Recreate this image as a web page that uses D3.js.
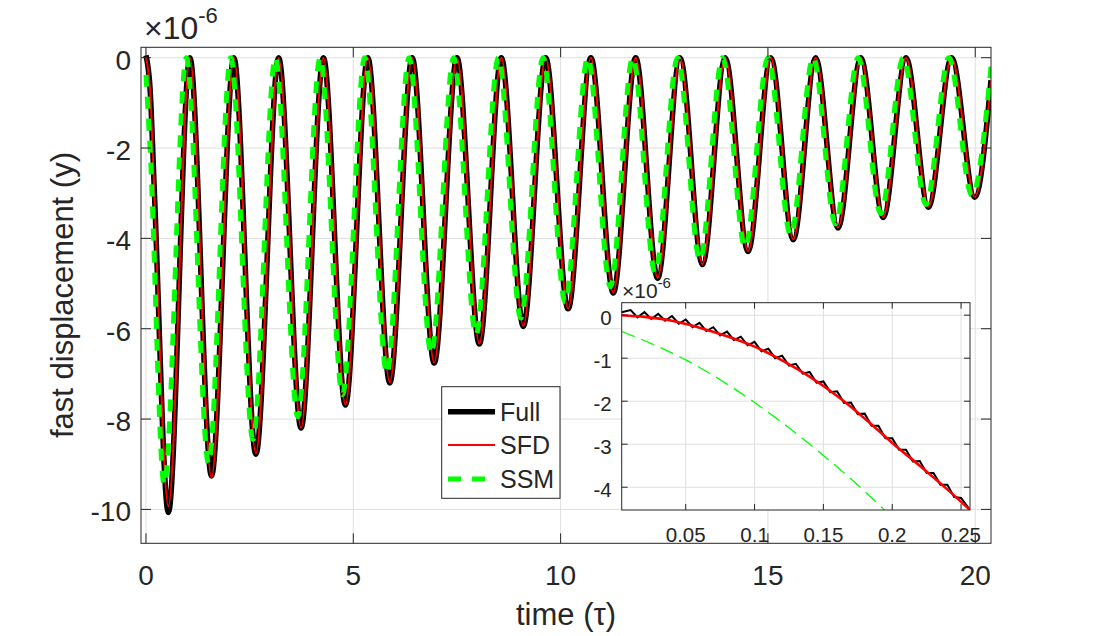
<!DOCTYPE html>
<html><head><meta charset="utf-8">
<script src="https://cdn.jsdelivr.net/npm/d3@7"></script>
<style>
body{margin:0;background:#fff}
svg{display:block}
text{font-family:"Liberation Sans",Arial,Helvetica,sans-serif;fill:#262626}
</style>
</head><body>
<svg id="c" width="1096" height="636"></svg>
<script>
// ---------------- DATA (values in units of 1e-6) ----------------
// Main panel: extrema (peaks ~0, troughs decaying)
const fullT = [0, 0.1, 0.2, 0.54, 1.06, 1.58, 2.12, 2.65, 3.20, 3.74, 4.28, 4.81, 5.35, 5.88, 6.42, 6.95, 7.50, 8.04, 8.57, 9.10, 9.64, 10.18, 10.73, 11.27, 11.81, 12.34, 12.88, 13.42, 13.97, 14.52, 15.07, 15.61, 16.15, 16.69, 17.24, 17.78, 18.33, 18.87, 19.43, 19.99, 20.38];
const fullV = [0.05, -0.70, -2.90, -10.07, 0, -9.26, 0, -8.78, 0, -8.20, 0, -7.69, 0, -7.20, 0, -6.76, 0, -6.34, 0, -5.95, 0, -5.56, 0, -5.21, 0, -4.88, 0, -4.58, 0, -4.29, 0, -4.03, 0, -3.77, 0, -3.54, 0, -3.31, 0, -3.09, -0.50];
const sfdT = [0, 0.1, 0.2, 0.54, 1.06, 1.58, 2.12, 2.65, 3.20, 3.74, 4.28, 4.81, 5.35, 5.88, 6.42, 6.95, 7.50, 8.04, 8.57, 9.10, 9.64, 10.18, 10.73, 11.27, 11.81, 12.34, 12.88, 13.42, 13.97, 14.52, 15.07, 15.61, 16.15, 16.69, 17.24, 17.78, 18.33, 18.87, 19.43, 19.99, 20.38];
const sfdV = [0, -0.73, -2.97, -9.93, 0, -9.30, 0, -8.76, 0, -8.19, 0, -7.68, 0, -7.19, 0, -6.75, 0, -6.33, 0, -5.94, 0, -5.55, 0, -5.20, 0, -4.87, 0, -4.57, 0, -4.28, 0, -4.02, 0, -3.76, 0, -3.53, 0, -3.30, 0, -3.08, -0.50];
const ssmT = [0, 0.1, 0.44, 0.975, 1.51, 2.045, 2.58, 3.12, 3.66, 4.20, 4.74, 5.275, 5.81, 6.345, 6.88, 7.42, 7.96, 8.50, 9.04, 9.575, 10.11, 10.655, 11.20, 11.74, 12.28, 12.82, 13.36, 13.905, 14.45, 15.00, 15.55, 16.09, 16.63, 17.175, 17.72, 18.265, 18.81, 19.365, 19.92, 20.38];
const ssmV = [-0.38, -2.03, -9.45, 0, -8.98, 0, -8.45, 0, -7.95, 0, -7.46, 0, -6.99, 0, -6.55, 0, -6.13, 0, -5.76, 0, -5.41, 0, -5.07, 0, -4.76, 0, -4.48, 0, -4.20, 0, -3.93, 0, -3.68, 0, -3.45, 0, -3.25, 0, -3.05, -0.20];

// Inset panel (zoom on the first quarter period)
const inFullT = [0.0035, 0.010, 0.015, 0.020, 0.025, 0.030, 0.035, 0.040, 0.045, 0.050, 0.055, 0.060, 0.065, 0.070, 0.075, 0.080, 0.085, 0.090, 0.095, 0.100, 0.105, 0.110, 0.115, 0.120, 0.125, 0.130, 0.135, 0.140, 0.145, 0.150, 0.155, 0.160, 0.165, 0.170, 0.175, 0.180, 0.185, 0.190, 0.195, 0.200, 0.205, 0.210, 0.215, 0.220, 0.225, 0.230, 0.235, 0.240, 0.245, 0.250, 0.2565];
const inFullV = [0.07, 0.12, -0.05, 0.07, -0.09, 0.03, -0.13, -0.02, -0.20, -0.10, -0.28, -0.18, -0.37, -0.28, -0.47, -0.38, -0.58, -0.50, -0.70, -0.62, -0.84, -0.78, -1.00, -0.94, -1.17, -1.13, -1.36, -1.32, -1.57, -1.54, -1.79, -1.77, -2.04, -2.03, -2.30, -2.29, -2.57, -2.57, -2.86, -2.86, -3.13, -3.13, -3.40, -3.39, -3.67, -3.67, -3.94, -3.94, -4.23, -4.25, -4.53];
const inSfdT = [0.0035, 0.02, 0.04, 0.06, 0.08, 0.10, 0.12, 0.14, 0.16, 0.18, 0.20, 0.22, 0.24, 0.2565];
const inSfdV = [0.0, -0.04, -0.13, -0.29, -0.49, -0.73, -1.05, -1.43, -1.88, -2.40, -2.97, -3.50, -4.05, -4.53];
const inSsmT = [0.0035, 0.025, 0.05, 0.075, 0.10, 0.125, 0.15, 0.175, 0.195];
const inSsmV = [-0.38, -0.66, -1.04, -1.50, -2.03, -2.62, -3.26, -3.95, -4.55];

// Ticks and labels
const mainXTicks = [0, 5, 10, 15, 20];
const mainYTicks = [-10, -8, -6, -4, -2, 0];
const insetXTicks = [0.05, 0.1, 0.15, 0.2, 0.25];
const insetXTickLabels = ["0.05", "0.1", "0.15", "0.2", "0.25"];
const insetYTicks = [-4, -3, -2, -1, 0];
const seriesNames = ["Full", "SFD", "SSM"];
const seriesColors = ["#000000", "#ff0000", "#00ff00"];
const xLabel = "time (τ)";
const yLabel = "fast displacement (y)";

// ---------------- DRAWING ----------------
const svg = d3.select("#c");
svg.append("rect").attr("width", 1096).attr("height", 636).attr("fill", "#fff");
const AX = "#262626", GRID = "#dfdfdf";
const toPts = (T, V) => T.map((t, i) => [t, V[i]]);

function drawFrame(g, xs, ys, xt, yt) {
  const [x0, x1] = xs.range(), [y0, y1] = ys.range();
  const grid = g.append("g").attr("stroke", GRID).attr("stroke-width", 1);
  xt.forEach(t => grid.append("line").attr("x1", xs(t)).attr("x2", xs(t)).attr("y1", y0).attr("y2", y1));
  yt.forEach(t => grid.append("line").attr("y1", ys(t)).attr("y2", ys(t)).attr("x1", x0).attr("x2", x1));
}
function drawBox(g, xs, ys, xt, yt, tl) {
  const [x0, x1] = xs.range(), [y0, y1] = ys.range();
  const b = g.append("g").attr("stroke", AX).attr("stroke-width", 1).attr("fill", "none");
  b.append("rect").attr("x", x0).attr("y", y1).attr("width", x1 - x0).attr("height", y0 - y1);
  xt.forEach(t => {
    b.append("line").attr("x1", xs(t)).attr("x2", xs(t)).attr("y1", y0).attr("y2", y0 - tl);
    b.append("line").attr("x1", xs(t)).attr("x2", xs(t)).attr("y1", y1).attr("y2", y1 + tl);
  });
  yt.forEach(t => {
    b.append("line").attr("y1", ys(t)).attr("y2", ys(t)).attr("x1", x0).attr("x2", x0 + tl);
    b.append("line").attr("y1", ys(t)).attr("y2", ys(t)).attr("x1", x1).attr("x2", x1 - tl);
  });
}

// ---- main axes ----
const mx = d3.scaleLinear().domain([-0.12, 20.38]).range([141, 991]);
const my = d3.scaleLinear().domain([-10.75, 0.23]).range([543.3, 47.3]);
const main = svg.append("g");
drawFrame(main, mx, my, mainXTicks, mainYTicks);

svg.append("clipPath").attr("id", "clipMain").append("rect")
  .attr("x", 141).attr("y", 47.3).attr("width", 850).attr("height", 496);
const mline = d3.line().x(d => mx(d[0])).y(d => my(d[1])).curve(d3.curveMonotoneX);
const mc = main.append("g").attr("clip-path", "url(#clipMain)").attr("fill", "none");
mc.append("path").attr("d", mline(toPts(fullT, fullV))).attr("stroke", seriesColors[0]).attr("stroke-width", 5.5).attr("stroke-linejoin", "round");
mc.append("path").attr("d", mline(toPts(sfdT, sfdV))).attr("stroke", seriesColors[1]).attr("stroke-width", 2);
mc.append("path").attr("d", mline(toPts(ssmT, ssmV))).attr("stroke", seriesColors[2]).attr("stroke-width", 5).attr("stroke-dasharray", "12,10");

drawBox(main, mx, my, mainXTicks, mainYTicks, 10);

// tick labels
mainXTicks.forEach(t => main.append("text").attr("x", mx(t)).attr("y", 585).attr("text-anchor", "middle").attr("font-size", 28).text(String(t)));
mainYTicks.forEach(t => main.append("text").attr("x", 131).attr("y", my(t) + 12).attr("text-anchor", "end").attr("font-size", 28).text(String(t)));
// exponent
const ex = main.append("text").attr("x", 144).attr("y", 39).attr("font-size", 32);
ex.append("tspan").text("×10");
ex.append("tspan").attr("font-size", 22).attr("dy", -16).text("-6");
// axis labels
main.append("text").attr("x", 566).attr("y", 625).attr("text-anchor", "middle").attr("font-size", 31).text(xLabel);
main.append("text").attr("transform", "translate(73,295) rotate(-90)").attr("text-anchor", "middle").attr("font-size", 31).text(yLabel);

// ---- legend ----
const lg = svg.append("g");
lg.append("rect").attr("x", 441.7).attr("y", 386.7).attr("width", 118.3).attr("height", 111.6).attr("fill", "#fff").attr("stroke", AX).attr("stroke-width", 1);
const rows = [411.7, 445, 479];
const lw = [5.5, 2, 5];
rows.forEach((ry, i) => {
  const ln = lg.append("line").attr("x1", 448).attr("x2", 495).attr("y1", ry).attr("y2", ry)
    .attr("stroke", seriesColors[i]).attr("stroke-width", lw[i]);
  if (i === 2) ln.attr("stroke-dasharray", "13,11");
  lg.append("text").attr("x", 500).attr("y", ry + 9).attr("font-size", 25).text(seriesNames[i]);
});

// ---- inset axes ----
const ix = d3.scaleLinear().domain([0.0035, 0.2565]).range([621.7, 970]);
const iy = d3.scaleLinear().domain([-4.53, 0.29]).range([510, 302.7]);
const ins = svg.append("g");
ins.append("rect").attr("x", 621.7).attr("y", 302.7).attr("width", 970 - 621.7).attr("height", 510 - 302.7).attr("fill", "#fff");
drawFrame(ins, ix, iy, insetXTicks, insetYTicks);
svg.append("clipPath").attr("id", "clipIn").append("rect")
  .attr("x", 621.7).attr("y", 302.7).attr("width", 970 - 621.7).attr("height", 510 - 302.7);
const iline = d3.line().x(d => ix(d[0])).y(d => iy(d[1]));
const ic = ins.append("g").attr("clip-path", "url(#clipIn)").attr("fill", "none");
ic.append("path").attr("d", iline(toPts(inFullT, inFullV))).attr("stroke", seriesColors[0]).attr("stroke-width", 2);
const ilineS = d3.line().x(d => ix(d[0])).y(d => iy(d[1])).curve(d3.curveMonotoneX);
ic.append("path").attr("d", ilineS(toPts(inSfdT, inSfdV))).attr("stroke", seriesColors[1]).attr("stroke-width", 2.6);
ic.append("path").attr("d", ilineS(toPts(inSsmT, inSsmV))).attr("stroke", seriesColors[2]).attr("stroke-width", 1.3).attr("stroke-dasharray", "14,7");
drawBox(ins, ix, iy, insetXTicks, insetYTicks, 6);
insetXTicks.forEach((t, i) => ins.append("text").attr("x", ix(t)).attr("y", 541.5).attr("text-anchor", "middle").attr("font-size", 20.5).text(insetXTickLabels[i]));
insetYTicks.forEach(t => ins.append("text").attr("x", 611.7).attr("y", iy(t) + 9.5).attr("text-anchor", "end").attr("font-size", 20.5).text(String(t)));
const ex2 = ins.append("text").attr("x", 622).attr("y", 297.5).attr("font-size", 21);
ex2.append("tspan").text("×10");
ex2.append("tspan").attr("font-size", 15).attr("dy", -10).text("-6");
</script>
</body></html>
